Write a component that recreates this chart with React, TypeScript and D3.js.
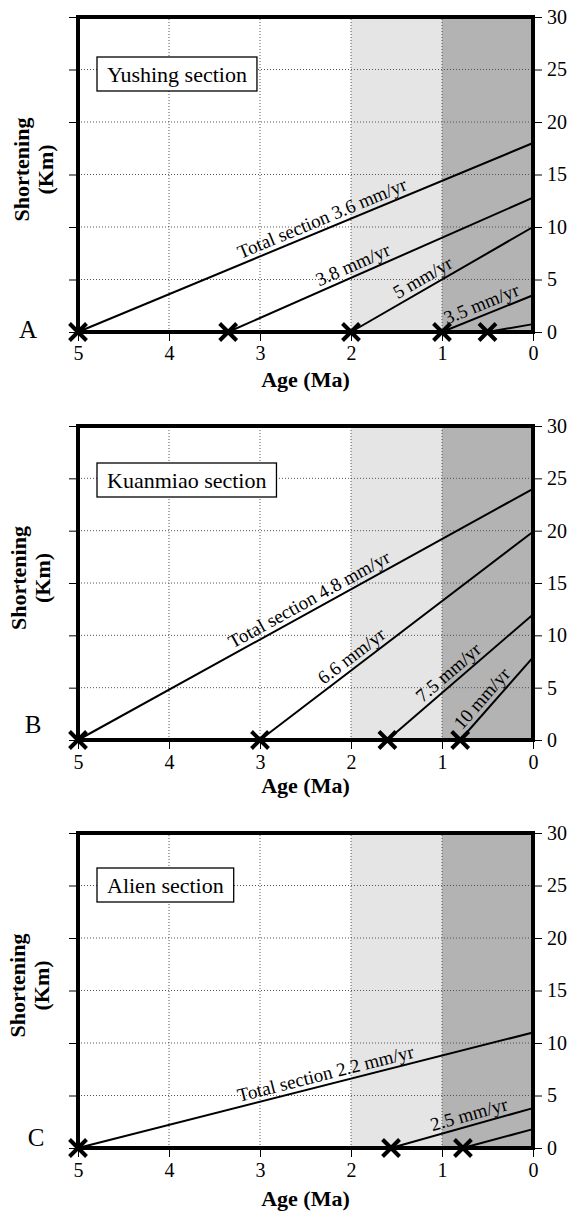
import React, { useRef, useEffect } from "react";
import * as d3 from "d3";

// ---------- data ----------
const ageTicks = [5, 4, 3, 2, 1, 0];
const kmTicks = [0, 5, 10, 15, 20, 25, 30];
const gridAges = [4, 3, 2, 1];
const gridKm = [5, 10, 15, 20, 25];
const shadeFromAge = [2, 1];
const shadeToAge = [1, 0];

const panelLetters = ["A", "B", "C"];
const sectionNames = ["Yushing section", "Kuanmiao section", "Alien section"];

// Yushing (A): each line starts at (age, 0) and ends at (0 Ma, shortening)
const yushingStartAge = [5, 3.35, 2, 1, 0.5];
const yushingEndKm = [18, 12.8, 10, 3.5, 0.75];
const yushingLabels = ["Total section 3.6 mm/yr", "3.8 mm/yr", "5 mm/yr", "3.5 mm/yr", ""];
const yushingLabelAge = [2.27, 1.93, 1.15, 0.52, 0];

// Kuanmiao (B)
const kuanmiaoStartAge = [5, 3, 1.6, 0.8];
const kuanmiaoEndKm = [24, 19.9, 12, 7.9];
const kuanmiaoLabels = ["Total section 4.8 mm/yr", "6.6 mm/yr", "7.5 mm/yr", "10 mm/yr"];
const kuanmiaoLabelAge = [2.4, 1.92, 0.85, 0.47];

// Alien (C)
const alienStartAge = [5, 1.56, 0.77];
const alienEndKm = [11, 3.8, 1.8];
const alienLabels = ["Total section 2.2 mm/yr", "2.5 mm/yr", ""];
const alienLabelAge = [2.25, 0.67, 0];

const series = [
  { start: yushingStartAge, end: yushingEndKm, labels: yushingLabels, labelAge: yushingLabelAge },
  { start: kuanmiaoStartAge, end: kuanmiaoEndKm, labels: kuanmiaoLabels, labelAge: kuanmiaoLabelAge },
  { start: alienStartAge, end: alienEndKm, labels: alienLabels, labelAge: alienLabelAge },
];

// ---------- layout ----------
const W = 571;
const H = 1214;
const FONT = "'Liberation Serif', 'Times New Roman', Times, serif";
const LEFT = 78;
const RIGHT = 533;
const layout = [
  { top: 17, bottom: 332, legendBase: 82, letterX: 28, letterBase: 338, yt1: 21, yt2: 45, xTitleBase: 387, tickPad: 5 },
  { top: 426, bottom: 740, legendBase: 488, letterX: 33, letterBase: 733, yt1: 18, yt2: 42, xTitleBase: 793, tickPad: 6 },
  { top: 833, bottom: 1148, legendBase: 893, letterX: 36, letterBase: 1146, yt1: 17, yt2: 41, xTitleBase: 1206, tickPad: 6 },
];

export default function App() {
  const ref = useRef<SVGSVGElement | null>(null);

  useEffect(() => {
    const svg = d3.select(ref.current);
    svg.selectAll("*").remove();

    layout.forEach((L, i) => {
      const g = svg.append("g");
      const x = d3.scaleLinear().domain([5, 0]).range([LEFT, RIGHT]);
      const y = d3.scaleLinear().domain([0, 30]).range([L.bottom, L.top]);
      const s = series[i];

      // shading
      const shadeColors = ["#e5e5e5", "#b3b3b3"];
      shadeFromAge.forEach((a0, k) => {
        g.append("rect")
          .attr("x", x(a0))
          .attr("y", y(30))
          .attr("width", x(shadeToAge[k]) - x(a0))
          .attr("height", y(0) - y(30))
          .attr("fill", shadeColors[k]);
      });

      // grid
      gridAges.forEach((a) => {
        g.append("line")
          .attr("x1", x(a)).attr("x2", x(a))
          .attr("y1", y(0)).attr("y2", y(30))
          .attr("stroke", "#555").attr("stroke-width", 1)
          .attr("stroke-dasharray", "1,2");
      });
      gridKm.forEach((k) => {
        g.append("line")
          .attr("x1", x(5)).attr("x2", x(0))
          .attr("y1", y(k)).attr("y2", y(k))
          .attr("stroke", "#555").attr("stroke-width", 1)
          .attr("stroke-dasharray", "1,2");
      });

      // lines
      const lineGen = d3.line<[number, number]>().x((d) => x(d[0])).y((d) => y(d[1]));
      s.start.forEach((a, k) => {
        g.append("path")
          .attr("d", lineGen([[a, 0], [0, s.end[k]]]))
          .attr("fill", "none")
          .attr("stroke", "#000")
          .attr("stroke-width", 2);
      });

      // line labels
      s.start.forEach((a, k) => {
        const txt = s.labels[k];
        if (!txt) return;
        const la = s.labelAge[k];
        const km = (s.end[k] * (a - la)) / a;
        const ang = (Math.atan2(y(s.end[k]) - y(0), x(0) - x(a)) * 180) / Math.PI;
        g.append("text")
          .attr("transform", `translate(${x(la)},${y(km)}) rotate(${ang})`)
          .attr("y", -5)
          .attr("text-anchor", "middle")
          .attr("font-family", FONT)
          .attr("font-size", 19)
          .attr("fill", "#000")
          .text(txt);
      });

      // legend box
      const lg = g.append("g");
      const lt = lg.append("text")
        .attr("x", 107)
        .attr("y", L.legendBase)
        .attr("font-family", FONT)
        .attr("font-size", 22)
        .attr("fill", "#000")
        .text(sectionNames[i]);
      const tw = (lt.node() as SVGTextElement).getComputedTextLength();
      lg.insert("rect", "text")
        .attr("x", 97)
        .attr("y", L.legendBase - 25)
        .attr("width", tw + 20)
        .attr("height", 34)
        .attr("fill", "#fff")
        .attr("stroke", "#000")
        .attr("stroke-width", 1.3);

      // axes
      const left = g.append("g")
        .attr("transform", `translate(${LEFT},0)`)
        .call(d3.axisLeft(y).tickValues(kmTicks).tickSize(9).tickFormat(() => ""));
      left.select(".domain").remove();

      const right = g.append("g")
        .attr("transform", `translate(${RIGHT},0)`)
        .call(d3.axisRight(y).tickValues(kmTicks).tickSize(9).tickPadding(5).tickFormat(d3.format("d")));
      right.select(".domain").remove();
      right.selectAll("text").attr("font-family", FONT).attr("font-size", 20).attr("fill", "#000");

      const bottom = g.append("g")
        .attr("transform", `translate(0,${L.bottom})`)
        .call(d3.axisBottom(x).tickValues(ageTicks).tickSize(9).tickPadding(L.tickPad).tickFormat(d3.format("d")));
      bottom.select(".domain").remove();
      bottom.selectAll("text").attr("font-family", FONT).attr("font-size", 20).attr("fill", "#000");

      // frame
      g.append("rect")
        .attr("x", x(5))
        .attr("y", y(30))
        .attr("width", x(0) - x(5))
        .attr("height", y(0) - y(30))
        .attr("fill", "none")
        .attr("stroke", "#000")
        .attr("stroke-width", 4);

      // X markers
      const h = 8.5;
      s.start.forEach((a) => {
        const cx = x(a);
        const cy = y(0);
        g.append("path")
          .attr("d", `M${cx - h},${cy - h}L${cx + h},${cy + h}M${cx - h},${cy + h}L${cx + h},${cy - h}`)
          .attr("stroke", "#000")
          .attr("stroke-width", 4)
          .attr("fill", "none");
      });

      // panel letter
      g.append("text")
        .attr("x", L.letterX)
        .attr("y", L.letterBase)
        .attr("text-anchor", "middle")
        .attr("font-family", FONT)
        .attr("font-size", 25)
        .attr("fill", "#000")
        .text(panelLetters[i]);

      // x title
      g.append("text")
        .attr("x", (x(5) + x(0)) / 2)
        .attr("y", L.xTitleBase)
        .attr("text-anchor", "middle")
        .attr("font-family", FONT)
        .attr("font-weight", "bold")
        .attr("font-size", 22)
        .attr("fill", "#000")
        .text("Age (Ma)");

      // y title
      const cyMid = (L.top + L.bottom) / 2 - 5;
      [["Shortening", L.yt1], ["(Km)", L.yt2]].forEach(([t, xx]) => {
        g.append("text")
          .attr("transform", `translate(${xx},${cyMid}) rotate(-90)`)
          .attr("text-anchor", "middle")
          .attr("dy", "0.35em")
          .attr("font-family", FONT)
          .attr("font-weight", "bold")
          .attr("font-size", 22)
          .attr("fill", "#000")
          .text(t as string);
      });
    });
  }, []);

  return (
    <svg
      ref={ref}
      width={W}
      height={H}
      viewBox={`0 0 ${W} ${H}`}
      style={{ position: "absolute", left: 0, top: 0, background: "#fff" }}
    />
  );
}
